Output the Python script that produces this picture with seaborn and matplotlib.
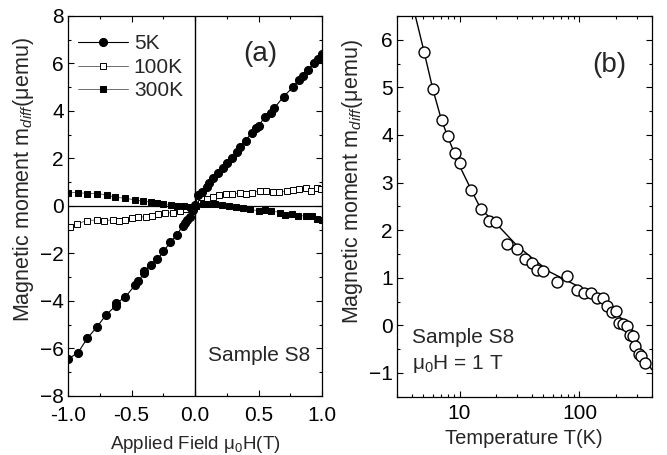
import numpy as np
import pandas as pd
import matplotlib
matplotlib.use("Agg")
import matplotlib.pyplot as plt
import seaborn as sns
from matplotlib.ticker import MultipleLocator, LogLocator, NullFormatter, FixedLocator, FixedFormatter

# ---------------- data: panel (a) ----------------
H_5K = [-1.0, -0.921, -0.848, -0.774, -0.701, -0.625, -0.622, -0.549, -0.472, -0.446, -0.402, -0.40,
        -0.349, -0.297, -0.249, -0.197, -0.144, -0.097, -0.079, -0.06, -0.039, -0.013, 0.0, 0.026,
        0.053, 0.092, 0.110, 0.144, 0.184, 0.218, 0.250, 0.294, 0.333, 0.354, 0.399, 0.446, 0.480,
        0.499, 0.551, 0.596, 0.622, 0.696, 0.774, 0.814, 0.853, 0.892, 0.932, 0.971, 0.997]
M_5K = [-6.45, -6.18, -5.57, -5.11, -4.59, -4.21, -4.10, -3.84, -3.33, -3.16, -2.84, -2.74,
        -2.48, -2.25, -1.92, -1.54, -1.22, -0.84, -0.73, -0.60, -0.45, -0.17, 0.05, 0.46,
        0.60, 0.81, 0.98, 1.17, 1.38, 1.59, 1.80, 2.01, 2.29, 2.50, 2.75, 3.09, 3.27,
        3.37, 3.76, 3.93, 4.11, 4.60, 5.02, 5.31, 5.47, 5.73, 6.01, 6.18, 6.40]

H_100K = [-0.984, -0.93, -0.853, -0.77, -0.72, -0.65, -0.60, -0.55, -0.50, -0.446, -0.39, -0.34,
          -0.29, -0.24, -0.17, -0.12, -0.07, -0.03, 0.01, 0.05, 0.09, 0.14, 0.19, 0.24, 0.29,
          0.35, 0.40, 0.45, 0.51, 0.56, 0.61, 0.66, 0.72, 0.77, 0.82, 0.87, 0.91, 0.96, 0.99]
M_100K = [-0.88, -0.76, -0.62, -0.59, -0.62, -0.59, -0.62, -0.59, -0.52, -0.48, -0.45, -0.42,
          -0.35, -0.31, -0.28, -0.21, -0.14, -0.11, 0.0, 0.14, 0.28, 0.39, 0.45, 0.49, 0.52,
          0.53, 0.52, 0.56, 0.63, 0.63, 0.59, 0.59, 0.63, 0.67, 0.73, 0.77, 0.63, 0.77, 0.73]

H_300K = [-1.0, -0.92, -0.85, -0.77, -0.69, -0.63, -0.55, -0.47, -0.41, -0.35, -0.30, -0.25,
          -0.19, -0.14, -0.09, -0.04, 0.01, 0.06, 0.11, 0.16, 0.21, 0.27, 0.32, 0.38, 0.43,
          0.50, 0.55, 0.60, 0.67, 0.71, 0.76, 0.81, 0.87, 0.92, 0.96, 1.0]
M_300K = [0.56, 0.56, 0.52, 0.52, 0.45, 0.36, 0.33, 0.24, 0.21, 0.17, 0.11, 0.07,
          0.03, 0.0, 0.0, -0.03, 0.0, 0.07, 0.07, 0.07, 0.03, 0.0, -0.03, -0.11, -0.14,
          -0.21, -0.17, -0.21, -0.28, -0.39, -0.35, -0.42, -0.42, -0.42, -0.56, -0.60]

# ---------------- data: panel (b) ----------------
T_meas = [5.02, 5.98, 7.07, 7.98, 9.08, 10.1, 12.5, 15.1, 17.5, 20.0, 25.1, 29.9, 35.1, 39.9,
          43.9, 49.9, 64.6, 79.3, 95.0, 109, 125, 141, 156, 170, 187, 203, 212, 231, 250, 266,
          280, 293, 313, 327, 349]
M_meas = [5.74, 4.97, 4.31, 3.97, 3.63, 3.40, 2.84, 2.45, 2.19, 2.17, 1.70, 1.61, 1.40, 1.31,
          1.16, 1.14, 0.91, 1.03, 0.74, 0.67, 0.69, 0.57, 0.57, 0.41, 0.29, 0.30, 0.05, 0.03,
          -0.01, -0.20, -0.22, -0.44, -0.60, -0.65, -0.79]
T_fit = [4.28, 5, 6, 7, 8, 10, 12.5, 15, 21.6, 30, 40, 56.8, 101, 170, 250, 316, 400]
M_fit = [6.5, 5.8, 4.95, 4.35, 3.95, 3.35, 2.85, 2.45, 2.06, 1.68, 1.42, 1.12, 0.80, 0.46, 0.01, -0.44, -0.93]

series_labels = ["5K", "100K", "300K"]

# ---------------- style ----------------
sns.set_theme(style="ticks")
plt.rcParams["font.family"] = ["Liberation Sans", "DejaVu Sans"]
plt.rcParams["mathtext.fontset"] = "custom"
plt.rcParams["mathtext.rm"] = "Liberation Sans"
plt.rcParams["mathtext.it"] = "Liberation Sans:italic"
plt.rcParams["axes.edgecolor"] = "black"
plt.rcParams["axes.linewidth"] = 0.9
plt.rcParams["xtick.color"] = "black"
plt.rcParams["ytick.color"] = "black"

fig = plt.figure(figsize=(6.67, 4.55), dpi=100)
axa = fig.add_axes([0.102, 0.130, 0.381, 0.835])
axb = fig.add_axes([0.595, 0.128, 0.382, 0.837])

# ---------------- panel (a) ----------------
axa.axhline(0, color="black", lw=0.9, zorder=1)
axa.axvline(0, color="black", lw=1.0, zorder=1)

df5 = pd.DataFrame({"H": H_5K, "M": M_5K})
df100 = pd.DataFrame({"H": H_100K, "M": M_100K})
df300 = pd.DataFrame({"H": H_300K, "M": M_300K})

sns.lineplot(data=df5, x="H", y="M", ax=axa, color="black", lw=0.8, marker="o", markersize=5.8,
             markerfacecolor="black", markeredgecolor="black", label=series_labels[0], sort=False,
             estimator=None)
sns.lineplot(data=df100, x="H", y="M", ax=axa, color="#555555", lw=0.6, marker="s", markersize=4.2,
             markerfacecolor="white", markeredgecolor="black", markeredgewidth=0.7,
             label=series_labels[1], sort=False, estimator=None)
sns.lineplot(data=df300, x="H", y="M", ax=axa, color="#555555", lw=0.6, marker="s", markersize=4.6,
             markerfacecolor="black", markeredgecolor="black", label=series_labels[2], sort=False,
             estimator=None)

axa.set_xlim(-1.0, 1.0)
axa.set_ylim(-8, 8)
axa.xaxis.set_major_locator(MultipleLocator(0.5))
axa.xaxis.set_minor_locator(MultipleLocator(0.25))
axa.yaxis.set_major_locator(MultipleLocator(2))
axa.yaxis.set_minor_locator(MultipleLocator(1))
axa.xaxis.set_major_formatter(matplotlib.ticker.FormatStrFormatter("%.1f"))
axa.set_xlabel(r"Applied Field μ$_0$H(T)", fontsize=13.5, labelpad=6.5)
axa.set_ylabel(r"Magnetic moment m$_{\it{diff}}$(μemu)", fontsize=15.5)
axa.yaxis.set_label_coords(-0.125, 0.57)
leg = axa.legend(loc="upper left", frameon=False, fontsize=15, handlelength=2.4, handletextpad=0.3,
                 labelspacing=0.22, borderaxespad=0.3, bbox_to_anchor=(-0.02, 0.99))
axa.text(0.755, 0.90, "(a)", transform=axa.transAxes, fontsize=20, ha="center", va="center")
axa.text(0.752, 0.105, "Sample S8", transform=axa.transAxes, fontsize=15, ha="center", va="center")

# ---------------- panel (b) ----------------
dfm = pd.DataFrame({"T": T_meas, "M": M_meas})
dff = pd.DataFrame({"T": T_fit, "M": M_fit})
sns.lineplot(data=dff, x="T", y="M", ax=axb, color="black", lw=1.0, sort=False, estimator=None, zorder=2)
sns.scatterplot(data=dfm, x="T", y="M", ax=axb, s=62, facecolor="white", edgecolor="black",
                linewidth=1.0, zorder=3)
axb.set_xscale("log")
axb.set_xlim(3, 400)
axb.set_ylim(-1.5, 6.5)
axb.xaxis.set_major_locator(FixedLocator([10, 100]))
axb.xaxis.set_major_formatter(FixedFormatter(["10", "100"]))
axb.xaxis.set_minor_locator(LogLocator(base=10, subs=np.arange(2, 10), numticks=20))
axb.xaxis.set_minor_formatter(NullFormatter())
axb.yaxis.set_major_locator(MultipleLocator(1))
axb.yaxis.set_minor_locator(MultipleLocator(0.5))
axb.set_xlabel("Temperature T(K)", fontsize=14.5, labelpad=4)
axb.set_ylabel(r"Magnetic moment m$_{\it{diff}}$(μemu)", fontsize=15.5)
axb.yaxis.set_label_coords(-0.125, 0.565)
axb.text(0.833, 0.87, "(b)", transform=axb.transAxes, fontsize=20, ha="center", va="center")
axb.text(0.06, 0.155, "Sample S8", transform=axb.transAxes, fontsize=15, ha="left", va="center")
axb.text(0.06, 0.085, r"μ$_0$H = 1 T", transform=axb.transAxes, fontsize=15, ha="left", va="center")

for ax in (axa, axb):
    ax.tick_params(which="both", direction="in", top=True, right=True, labelsize=15)
    ax.tick_params(axis="y", which="both", pad=3)
    ax.tick_params(which="major", length=4, width=0.8)
    ax.tick_params(which="minor", length=2.2, width=0.8)
    for s in ax.spines.values():
        s.set_visible(True)
axa.tick_params(axis="x", which="both", pad=7.5)
axb.tick_params(axis="x", which="both", pad=5.5)

fig.savefig("out.png", dpi=100)
